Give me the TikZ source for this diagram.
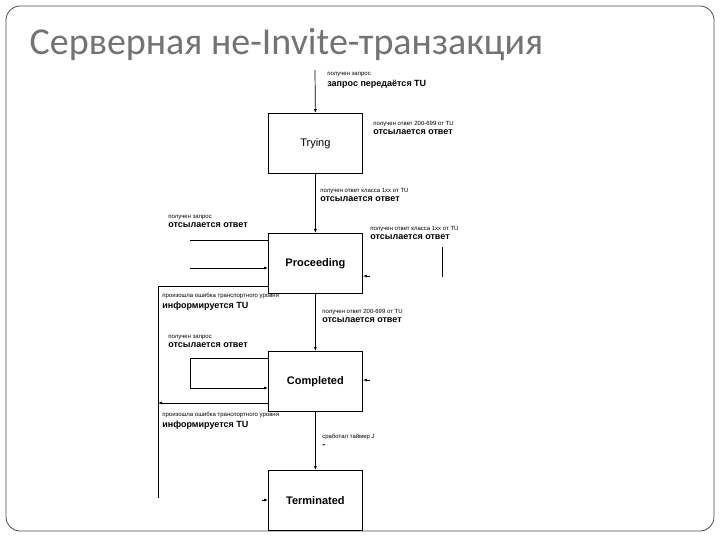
\documentclass[tikz,border=0pt]{standalone}
\usepackage{fontspec}
\setmainfont{Liberation Sans}
\newfontfamily\titlefont{Carlito}
\usetikzlibrary{arrows.meta}
\newcommand\bigtxt{\fontsize{9}{10}\selectfont\bfseries}
\begin{document}
\begin{tikzpicture}[x=1pt,y=-1pt,
  state/.style={draw,thick,minimum width=94pt,minimum height=60pt,anchor=north west,font=\fontsize{11}{12}\selectfont\bfseries},
  lbl/.style={anchor=north west,inner sep=0pt,align=left,font=\fontsize{6}{7}\selectfont},
  ar/.style={-{Latex[length=4pt,width=3pt]}},
  every path/.style={line width=0.7pt}]
\useasboundingbox (0,0) rectangle (720,540);
\fill[white] (0,0) rectangle (720,540);
\draw[line width=0.8pt,rounded corners=14pt,black!70] (6,6) rectangle (714,531);
\node[anchor=west,text=black!55,font=\titlefont\fontsize{38}{40}\selectfont] (title) at (26,45) {Серверная не-Invite-транзакция};

\node[state,font=\fontsize{11}{12}\selectfont] (try) at (268,113) {Trying};
\node[state] (pro) at (268,233) {Proceeding};
\node[state] (com) at (268,351) {Completed};
\node[state] (ter) at (268,470) {Terminated};

\coordinate (top) at (315,70);
\draw[ar] (top) -- (try.north);
\draw[ar] (try.south) -- (pro.north);
\draw[ar] (pro.south) -- (com.north);
\draw[ar] (com.south) -- (ter.north);

\coordinate (pa) at (190,240); \draw (pa) -- (pa -| pro.west);
\coordinate (pb) at (190,268); \draw[ar] (pb) -- (pb -| pro.west);
\coordinate (pc) at (158,286); \coordinate (pd) at (158,498);
\draw (pc -| pro.west) -- (pc) -- (pd);
\coordinate (ce) at (158,403); \draw[ar] (ce -| com.west) -- (ce);
\coordinate (ca) at (190,358); \coordinate (cb) at (190,388);
\draw[ar] (ca -| com.west) -- (ca) -- (cb) -- (cb -| com.west);
\coordinate (pr) at (370,276); \draw[ar] (pr) -- (pr -| pro.east);
\coordinate (cr) at (370,380); \draw[ar] (cr) -- (cr -| com.east);
\coordinate (tl) at (262,500); \draw[ar] (tl) -- (tl -| ter.west);
\coordinate (v1) at (442,247); \coordinate (v2) at (442,277); \draw (v1) -- (v2);

\node[lbl] (l1) at (327,72) {получен запрос\\[2pt]{\bigtxt запрос передаётся TU}};
\node[lbl] (l2) at (373,121) {получен ответ 200-699 от TU\\[2pt]{\bigtxt отсылается ответ}};
\node[lbl] (l3) at (320,188) {получен ответ класса 1xx от TU\\[2pt]{\bigtxt отсылается ответ}};
\node[lbl] (l4) at (168,215) {получен запрос\\[2pt]{\bigtxt отсылается ответ}};
\node[lbl] (l5) at (370,226) {получен ответ класса 1xx от TU\\[2pt]{\bigtxt отсылается ответ}};
\node[lbl] (l6) at (162,293) {произошла ошибка транспортного уровня\\[2pt]{\bigtxt информируется TU}};
\node[lbl] (l7) at (322,309) {получен ответ 200-699 от TU\\[2pt]{\bigtxt отсылается ответ}};
\node[lbl] (l8) at (168,335) {получен запрос\\[2pt]{\bigtxt отсылается ответ}};
\node[lbl] (l9) at (162,412) {произошла ошибка транспортного уровня\\[2pt]{\bigtxt информируется TU}};
\node[lbl] (l10) at (322,434) {сработал таймер J\\[2pt]{\bigtxt -}};
\end{tikzpicture}
\end{document}
